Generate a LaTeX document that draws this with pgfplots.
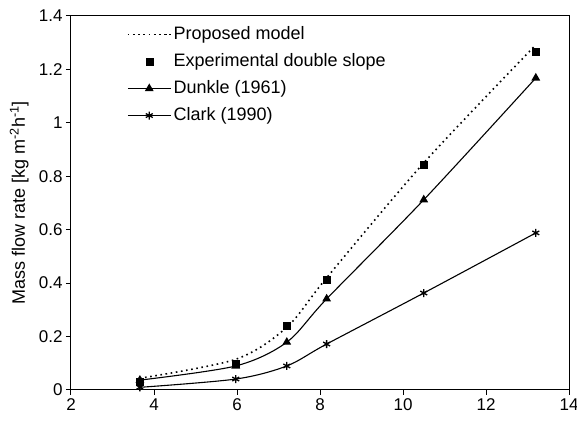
\documentclass[border=0pt]{standalone}
\usepackage{fontspec}
\setmainfont{Liberation Sans}
\usepackage{pgfplots}
\pgfplotsset{compat=1.18}

\begin{document}
\begin{tikzpicture}
\path[use as bounding box] (-71pt,-40pt) rectangle (506pt,390pt);
\begin{axis}[
  at={(0pt,0pt)}, anchor=south west, scale only axis,
  width=498pt, height=374pt,
  xmin=2, xmax=14, ymin=0, ymax=1.4,
  xtick={2,4,6,8,10,12,14},
  ytick={0,0.2,0.4,0.6,0.8,1,1.2,1.4},
  yticklabels={0,0.2,0.4,0.6,0.8,1,1.2,1.4},
  tick pos=left, tick align=outside, major tick length=5pt,
  axis line style={line width=1pt}, tick style={line width=1pt, black},
  /pgf/number format/assume math mode=true,
  tick label style={font=\fontsize{17}{19}\selectfont},
  ylabel={Mass flow rate [kg m\textsuperscript{-2}h\textsuperscript{-1}]},
  ylabel style={font=\fontsize{18}{20}\selectfont, at={(axis description cs:-0.104,0.5)}, anchor=center},
  legend cell align=left,
  legend image code/.code={\draw[mark repeat=2,mark phase=2,#1] plot coordinates {(0pt,0pt) (21.5pt,0pt) (43pt,0pt)};},
  legend style={draw=none, fill=none, font=\fontsize{18}{20}\selectfont,
    at={(axis description cs:0.112,0.979)}, anchor=north west, inner sep=0pt,
    row sep=6pt, nodes={text height=13pt, text depth=4pt, inner sep=2pt}},
]
\addplot[black, line width=1.6pt, dash pattern=on 1.6pt off 3.6pt, smooth, tension=0.5, no marks] coordinates
 {(3.66,0.044)(5.97,0.115)(7.2,0.235)(8.16,0.42)(10.5,0.85)(13.2,1.292)};
\addlegendentry{Proposed model}
\addplot[black, only marks, mark=square*, mark size=3.5pt] coordinates
 {(3.66,0.03)(5.97,0.098)(7.2,0.241)(8.16,0.412)(10.5,0.845)(13.2,1.268)};
\addlegendentry{Experimental double slope}
\addplot[black, line width=1.1pt, smooth, tension=0.5, mark=triangle*, mark size=4pt, mark options={solid}] coordinates
 {(3.66,0.037)(5.97,0.09)(7.2,0.179)(8.16,0.341)(10.5,0.712)(13.2,1.168)};
\addlegendentry{Dunkle (1961)}
\addplot[black, line width=1.1pt, smooth, tension=0.5, mark=asterisk, mark size=4pt, mark options={line width=1.3pt}] coordinates
 {(3.66,0.01)(5.97,0.041)(7.2,0.09)(8.16,0.172)(10.5,0.363)(13.2,0.588)};
\addlegendentry{Clark (1990)}
\end{axis}
\end{tikzpicture}
\end{document}
